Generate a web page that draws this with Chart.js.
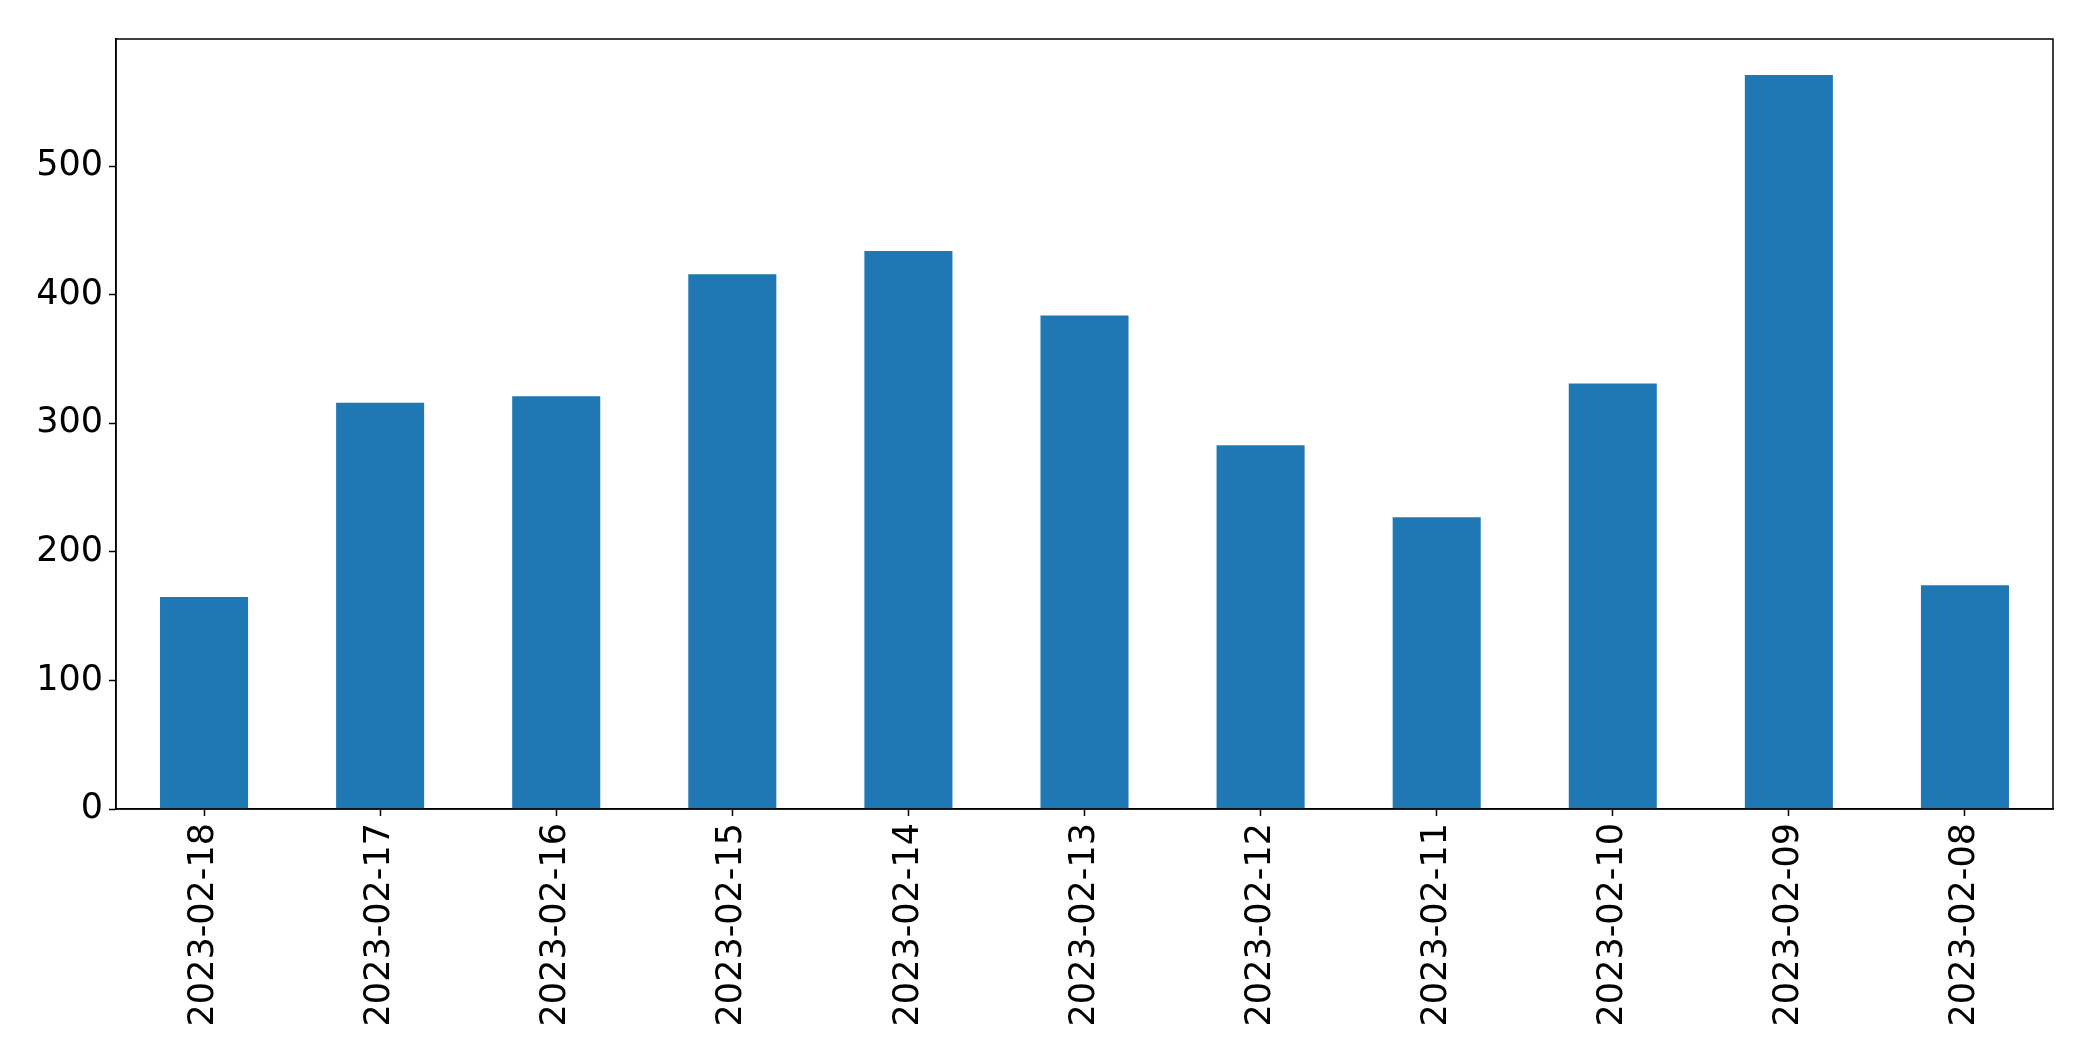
<!DOCTYPE html>
<html>
<head>
<meta charset="utf-8">
<script src="https://cdn.jsdelivr.net/npm/chart.js@4/dist/chart.umd.min.js"></script>
<style>
  html, body { margin: 0; padding: 0; background: #fff; }
  canvas { display: block; }
</style>
</head>
<body>
<canvas id="myBarChart" width="2093" height="1061"></canvas>
<script>
// Data
var dates = ['2023-02-18', '2023-02-17', '2023-02-16', '2023-02-15', '2023-02-14', '2023-02-13',
             '2023-02-12', '2023-02-11', '2023-02-10', '2023-02-09', '2023-02-08'];
var counts = [165, 316, 321, 416, 434, 384, 283, 227, 331, 571, 174];
var yTicks = [0, 100, 200, 300, 400, 500];

var barColor = '#1f77b4';

// frame around the plot area (matplotlib style)
var frame = {
    id: 'frame',
    afterDraw: function (chart) {
        var a = chart.chartArea, c = chart.ctx;
        c.save();
        c.strokeStyle = '#000';
        c.lineWidth = 1.5;
        c.strokeRect(a.left, a.top, a.right - a.left, a.bottom - a.top);
        c.restore();
    }
};

var ctx = document.getElementById('myBarChart').getContext('2d');
var myBarChart = new Chart(ctx, {
    type: 'bar',
    data: {
        labels: dates,
        datasets: [{
            data: counts,
            backgroundColor: barColor,
            borderWidth: 0,
            barPercentage: 0.5,
            categoryPercentage: 1.0
        }]
    },
    options: {
        responsive: false,
        animation: false,
        layout: { padding: { top: 39, right: 40, left: 0, bottom: 0 } },
        plugins: { legend: { display: false }, tooltip: { enabled: false } },
        scales: {
            x: {
                offset: true,
                grid: { display: true, drawOnChartArea: false, drawTicks: true, tickLength: 7, tickWidth: 1.5, tickColor: '#000', offset: false },
                border: { display: true, color: '#000', width: 1.5 },
                ticks: {
                    color: '#000',
                    font: { family: 'DejaVu Sans', size: 35 },
                    minRotation: 90,
                    maxRotation: 90,
                    padding: 7,
                    autoSkip: false
                },
                afterFit: function (scale) { scale.height = 252; }
            },
            y: {
                min: 0,
                max: 599,
                grid: { display: true, drawOnChartArea: false, drawTicks: true, tickLength: 7, tickWidth: 1.5, tickColor: '#000' },
                border: { display: true, color: '#000', width: 1.5 },
                ticks: {
                    color: '#000',
                    font: { family: 'DejaVu Sans', size: 35 },
                    padding: 6,
                    stepSize: 100
                },
                afterBuildTicks: function (scale) {
                    scale.ticks = yTicks.map(function (v) { return { value: v }; });
                },
                afterFit: function (scale) { scale.width = 116; }
            }
        }
    },
    plugins: [frame]
});
</script>
</body>
</html>
